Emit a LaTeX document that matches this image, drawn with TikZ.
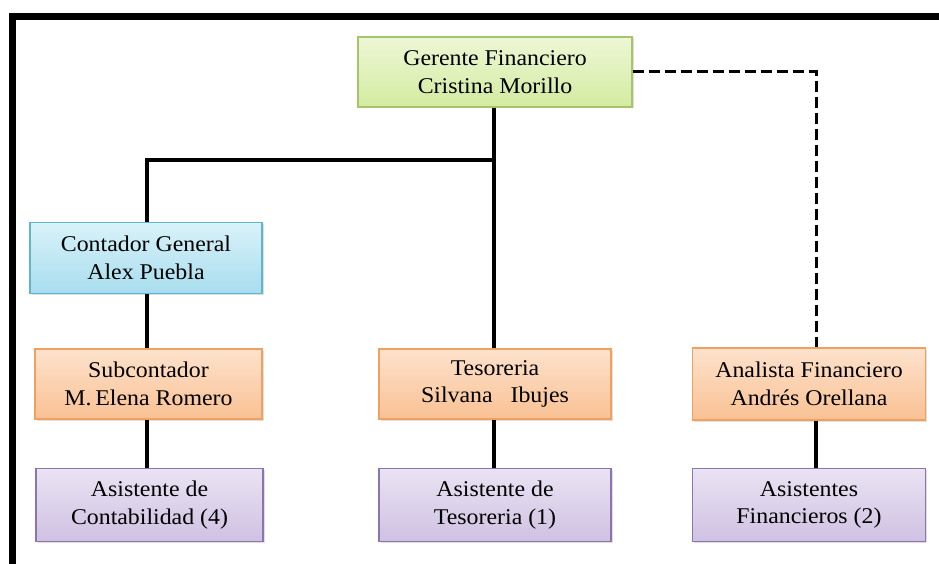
\documentclass[tikz,border=0pt]{standalone}
\usepackage{fontspec}
\setmainfont{Liberation Serif}[FakeStretch=1.06]
\usetikzlibrary{shadows}
\definecolor{greenA}{HTML}{EDF7D6}
\definecolor{greenB}{HTML}{D3EBA0}
\definecolor{greenL}{HTML}{A6C46A}
\definecolor{blueA}{HTML}{D9F2F9}
\definecolor{blueB}{HTML}{A8DDEE}
\definecolor{blueL}{HTML}{5DB5CF}
\definecolor{orangeA}{HTML}{FDE2CC}
\definecolor{orangeB}{HTML}{F9C193}
\definecolor{orangeL}{HTML}{F0A060}
\definecolor{purpleA}{HTML}{EAE3F3}
\definecolor{purpleB}{HTML}{CFC1E2}
\definecolor{purpleL}{HTML}{8C74AE}
\tikzset{
  x=1pt, y=-1pt,
  orgbox/.style={draw, line width=1.2pt, inner sep=0pt, align=center,
    font=\fontsize{22.5}{27.5}\selectfont, text=black,
    drop shadow={shadow xshift=1.5pt, shadow yshift=-1.5pt, opacity=0.25}},
  gbox/.style={orgbox, draw=greenL, top color=greenA, bottom color=greenB},
  bbox/.style={orgbox, draw=blueL, top color=blueA, bottom color=blueB},
  obox/.style={orgbox, draw=orangeL, top color=orangeA, bottom color=orangeB},
  pbox/.style={orgbox, draw=purpleL, top color=purpleA, bottom color=purpleB},
  link/.style={draw=black, line width=3.2pt},
  dlink/.style={draw=black, line width=3pt, dash pattern=on 11pt off 5pt}
}
\begin{document}
\begin{tikzpicture}
\useasboundingbox (0,0) rectangle (939,564);
\fill[white] (0,0) rectangle (939,564);
% outer frame (left and top edges)
\draw[line width=7pt] (12.5,564) -- (12.5,16.5) -- (939,16.5);

% boxes
\node[gbox, minimum width=274pt, minimum height=70pt] (ger) at (495,72) {Gerente Financiero\\Cristina Morillo};
\node[bbox, minimum width=232pt, minimum height=71pt] (con) at (146,258) {Contador General\\Alex Puebla};
\node[obox, minimum width=227pt, minimum height=70pt] (sub) at (148.5,384) {Subcontador\\M.\,Elena Romero};
\node[obox, minimum width=232pt, minimum height=70pt] (tes) at (495,384) {Tesoreria\\Silvana\ \ \ Ibujes};
\node[obox, minimum width=233pt, minimum height=72pt] (ana) at (809,384) {Analista Financiero\\Andrés Orellana};
\node[pbox, minimum width=227pt, minimum height=73pt] (as1) at (149.5,505) {Asistente de\\Contabilidad (4)};
\node[pbox, minimum width=232pt, minimum height=73pt] (as2) at (495,505) {Asistente de\\Tesoreria (1)};
\node[pbox, minimum width=233pt, minimum height=73pt] (as3) at (809,505) {Asistentes\\Financieros (2)};

% connector columns
\coordinate (colL) at (147,0);
\coordinate (colM) at (494,0);
\coordinate (colR) at (816,0);
\coordinate (bus) at (0,160);

% connectors
\draw[link] (ger.south -| colM) -- (tes.north -| colM);
\draw[link] (bus -| colM) -- (bus -| colL) -- (con.north -| colL);
\draw[link] (con.south -| colL) -- (sub.north -| colL);
\draw[link] (sub.south -| colL) -- (as1.north -| colL);
\draw[link] (tes.south -| colM) -- (as2.north -| colM);
\draw[link] (ana.south -| colR) -- (as3.north -| colR);
\draw[dlink] (ger.east) -- (ger.east -| colR) -- (ana.north -| colR);
\end{tikzpicture}
\end{document}
